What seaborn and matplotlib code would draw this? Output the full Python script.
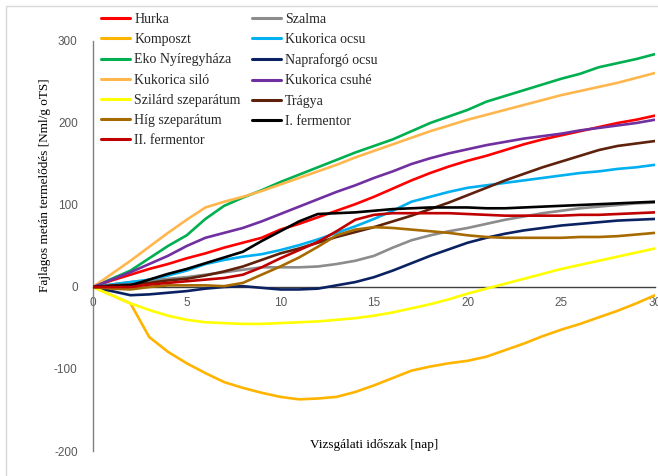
import numpy as np
import pandas as pd
import matplotlib
matplotlib.use("Agg")
import matplotlib.pyplot as plt
from matplotlib.patches import Rectangle
import seaborn as sns

# Measurement days
days = list(range(0, 31))

# Cumulative specific methane yield per substrate [Nml/g oTS]
hurka = [0, 8, 15, 22, 28, 35, 41, 48, 54, 60, 70, 77, 85, 93, 101, 110, 120, 130, 139, 147,
         154, 160, 167, 174, 180, 185, 190, 195, 200, 204, 209]
szalma = [0, 3, 6, 8, 10, 12, 15, 18, 21, 24, 24, 24, 25, 28, 32, 38, 48, 57, 63, 68,
          72, 77, 82, 86, 90, 93, 96, 98, 100, 102, 103]
komposzt = [0, -10, -20, -61, -79, -93, -105, -116, -123, -129, -134, -137, -136, -134, -128, -120,
            -111, -102, -97, -93, -90, -85, -77, -69, -60, -52, -45, -37, -29, -20, -10]
kukorica_ocsu = [0, 3, 6, 9, 14, 20, 28, 33, 37, 40, 45, 51, 58, 66, 74, 83, 93, 104, 110, 116,
                 121, 124, 127, 130, 133, 136, 139, 141, 144, 146, 149]
eko_nyiregyhaza = [0, 10, 20, 35, 50, 63, 83, 99, 109, 118, 128, 137, 146, 155, 164, 172, 180, 190,
                   200, 208, 216, 226, 233, 240, 247, 254, 260, 268, 273, 278, 284]
napraforgo_ocsu = [0, -5, -10, -9, -7, -5, -2, 0, 1, -1, -3, -3, -2, 2, 6, 12, 20, 29, 38, 46,
                   54, 60, 65, 69, 72, 75, 77, 79, 81, 82, 83]
kukorica_silo = [0, 16, 32, 49, 66, 82, 97, 104, 110, 117, 125, 133, 141, 149, 158, 166, 174, 182,
                 190, 197, 204, 210, 216, 222, 228, 234, 239, 244, 249, 255, 261]
kukorica_csuhe = [0, 9, 18, 28, 38, 50, 60, 66, 72, 80, 89, 98, 107, 116, 124, 133, 141, 150, 157,
                  163, 168, 173, 177, 181, 184, 187, 191, 194, 197, 200, 204]
szilard_szeparatum = [0, -10, -20, -28, -35, -40, -43, -44, -45, -45, -44, -43, -42, -40, -38, -35,
                      -31, -26, -21, -15, -8, -2, 4, 10, 16, 22, 27, 32, 37, 42, 47]
tragya = [0, 2, 3, 5, 8, 10, 14, 19, 25, 33, 41, 47, 54, 61, 67, 73, 80, 87, 95, 103, 112, 121,
          130, 138, 146, 153, 160, 167, 172, 175, 178]
hig_szeparatum = [0, -2, -3, 0, 2, 2, 2, 1, 5, 15, 25, 36, 49, 63, 70, 73, 72, 70, 68, 66, 63,
                  61, 60, 60, 60, 60, 61, 61, 62, 64, 66]
i_fermentor = [0, 1, 2, 9, 16, 22, 29, 36, 43, 56, 68, 80, 89, 90, 91, 93, 95, 96, 97, 97, 97,
               96, 96, 97, 98, 99, 100, 101, 102, 103, 104]
ii_fermentor = [0, 0, 0, 3, 5, 7, 9, 11, 15, 24, 35, 45, 55, 68, 82, 88, 90, 90, 90, 90, 89, 88,
                87, 87, 87, 87, 88, 88, 89, 90, 91]

series_names = ["Hurka", "Szalma", "Komposzt", "Kukorica ocsu", "Eko Nyíregyháza",
                "Napraforgó ocsu", "Kukorica siló", "Kukorica csuhé", "Szilárd szeparátum",
                "Trágya", "Híg szeparátum", "I. fermentor", "II. fermentor"]
series_values = [hurka, szalma, komposzt, kukorica_ocsu, eko_nyiregyhaza, napraforgo_ocsu,
                 kukorica_silo, kukorica_csuhe, szilard_szeparatum, tragya, hig_szeparatum,
                 i_fermentor, ii_fermentor]
series_colors = ["#FF0000", "#8C8C8C", "#FFB400", "#00B0F0", "#00B050", "#0B2262",
                 "#FFB74D", "#7030A0", "#FFFF00", "#5E220C", "#A66A00", "#000000", "#C00000"]

y_ticks = [-200, -100, 0, 100, 200, 300]
x_ticks = [0, 5, 10, 15, 20, 25, 30]

df = pd.concat(
    [pd.DataFrame({"nap": days, "ertek": vals, "minta": name})
     for name, vals in zip(series_names, series_values)],
    ignore_index=True,
)

sns.set_theme(style="white")
plt.rcParams["font.family"] = ["Liberation Serif", "DejaVu Serif"]
plt.rcParams["axes.unicode_minus"] = False

fig = plt.figure(figsize=(6.58, 4.76), dpi=100)
ax = fig.add_axes([93 / 658, 1 - 451 / 476, (655 - 93) / 658, (451 - 41) / 476])

sns.lineplot(data=df, x="nap", y="ertek", hue="minta", hue_order=series_names,
             palette=dict(zip(series_names, series_colors)), linewidth=1.9,
             legend=False, ax=ax, zorder=3)

ax.set_xlim(0, 30)
ax.set_ylim(-200, 300)
ax.set_xticks(x_ticks)
ax.set_yticks(y_ticks)
ax.set_xlabel("")
ax.set_ylabel("")

for side in ["top", "right"]:
    ax.spines[side].set_visible(False)
ax.spines["bottom"].set_position(("data", 0))
ax.spines["bottom"].set_color("#404040")
ax.spines["bottom"].set_linewidth(1.0)
ax.spines["bottom"].set_zorder(2)
ax.spines["left"].set_color("#808080")
ax.spines["left"].set_linewidth(1.0)

tick_font = {"family": ["Liberation Sans", "DejaVu Sans"], "size": 8.5}
ax.tick_params(axis="both", which="major", direction="out", length=4, width=1.0,
               colors="#808080", labelcolor="#595959")
ax.tick_params(axis="x", colors="#404040", labelcolor="#595959", pad=3)
ax.tick_params(axis="y", pad=7)
for lab in ax.get_xticklabels() + ax.get_yticklabels():
    lab.set_fontfamily(tick_font["family"])
    lab.set_fontsize(tick_font["size"])

# Axis titles
fig.text(374 / 658, 1 - 445 / 476, "Vizsgálati időszak [nap]", ha="center", va="center",
         fontsize=9.5, color="#000000")
fig.text(45 / 658, 1 - 185 / 476, "Fajlagos metán termelődés [Nml/g oTS]", rotation=90,
         ha="center", va="center", fontsize=9.5, color="#000000")

# Legend in two columns, filled row by row
lines = ax.get_lines()[:len(series_names)]
order = list(range(0, len(series_names), 2)) + list(range(1, len(series_names), 2))
leg = fig.legend([lines[i] for i in order], [series_names[i] for i in order],
                 loc="upper left", bbox_to_anchor=(101 / 658, 1 - 13 / 476), ncol=2,
                 frameon=False, fontsize=10, handlelength=2.1, handletextpad=0.3,
                 columnspacing=0.8, labelspacing=0.52, borderaxespad=0, borderpad=0)
for h in leg.get_lines():
    h.set_linewidth(2.2)

# Thin frame around the chart area
fig.patches.append(Rectangle((6 / 658, -0.1), 1.2, 1 - 6 / 476 + 0.1,
                             transform=fig.transFigure, fill=False,
                             edgecolor="#D9D9D9", linewidth=1.0))

fig.savefig("out.png", dpi=100)
